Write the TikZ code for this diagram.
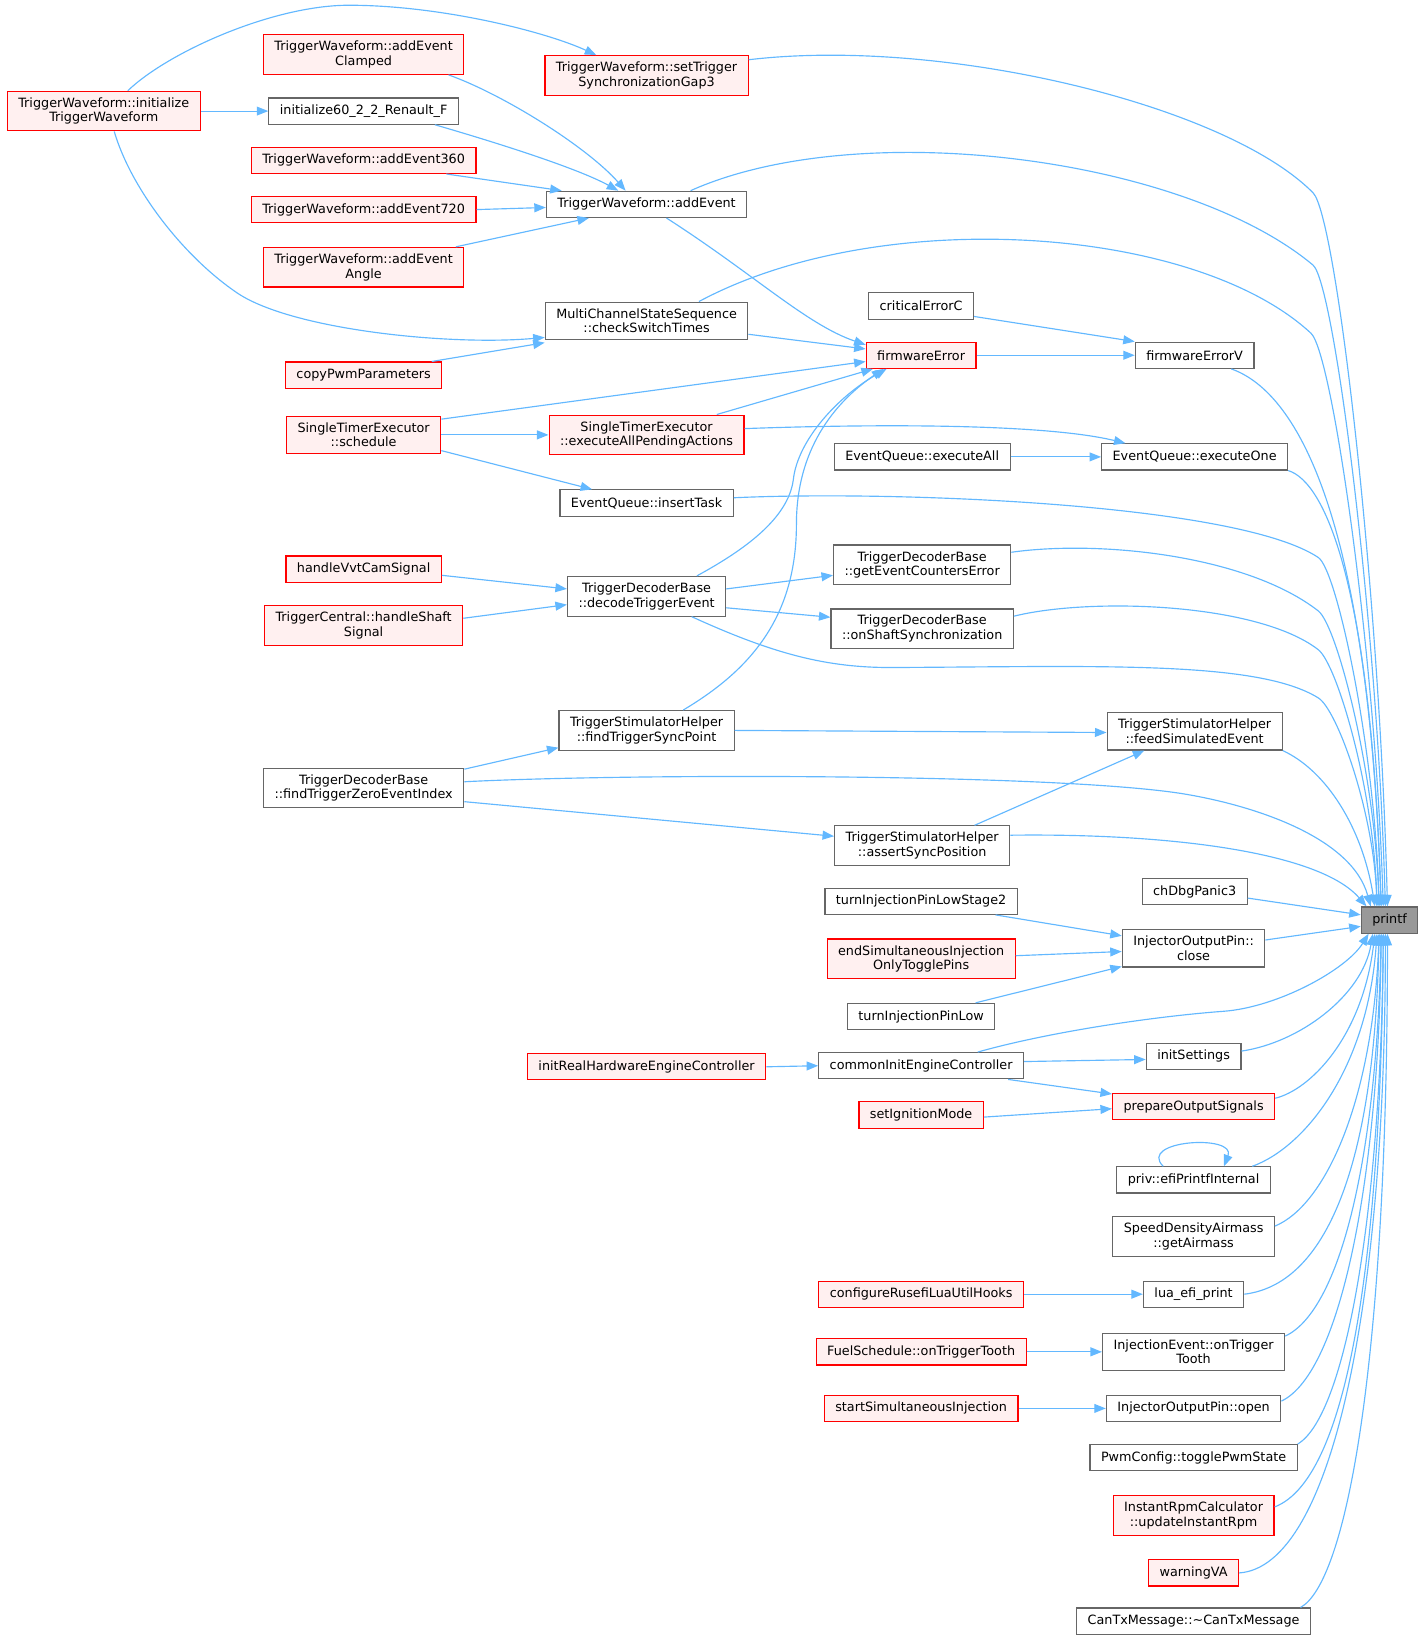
\documentclass[tikz,border=0pt]{standalone}
\usepackage{fontspec}
\setmainfont{DejaVu Sans}
\usepackage{tikz}
\usetikzlibrary{arrows.meta,calc}
\definecolor{edgeblue}{HTML}{63B8FF}
\definecolor{redfill}{HTML}{FFF0F0}
\definecolor{grayline}{HTML}{666666}
\definecolor{rootfill}{HTML}{999999}

\begin{document}
\begin{tikzpicture}[x=1pt,y=-1pt,
  fn/.style={draw=grayline, fill=white, line width=1.1pt, align=center,
    inner xsep=10.5pt, inner ysep=6pt, minimum height=25pt,
    font=\fontsize{12.2}{14}\selectfont},
  fnred/.style={fn, draw=red, fill=redfill},
  fnroot/.style={fn, fill=rootfill},
  call/.style={draw=edgeblue, line width=1.1pt, -{Triangle[length=11pt,width=8.5pt]}}]
\useasboundingbox (0,0) rectangle (1359,1565);

% Outer callers
\node[fnred] (initTW) at (99,106) {TriggerWaveform::initialize\\TriggerWaveform};
\node[fnred] (addEvClamped) at (347,52) {TriggerWaveform::addEvent\\Clamped};
\node[fn] (init60) at (347,106) {initialize60\_2\_2\_Renault\_F};
\node[fnred] (addEv360) at (347,153) {TriggerWaveform::addEvent360};
\node[fnred] (addEv720) at (347,200) {TriggerWaveform::addEvent720};
\node[fnred] (addEvAngle) at (347,255) {TriggerWaveform::addEvent\\Angle};
\node[fnred] (copyPwm) at (347,358) {copyPwmParameters};
\node[fnred] (schedule) at (347,415) {SingleTimerExecutor\\::schedule};
\node[fnred] (handleVvt) at (347,543) {handleVvtCamSignal};
\node[fnred] (handleShaft) at (347,597) {TriggerCentral::handleShaft\\Signal};
\node[fn] (findZero) at (347,752) {TriggerDecoderBase\\::findTriggerZeroEventIndex};

% Second column
\node[fnred] (setGap) at (617,72) {TriggerWaveform::setTrigger\\SynchronizationGap3};
\node[fn] (addEv) at (617,195) {TriggerWaveform::addEvent};
\node[fn] (checkSw) at (617,306) {MultiChannelStateSequence\\::checkSwitchTimes};
\node[fnred] (execPending) at (617,415) {SingleTimerExecutor\\::executeAllPendingActions};
\node[fn] (insertTask) at (617,480) {EventQueue::insertTask};
\node[fn] (decode) at (617,569) {TriggerDecoderBase\\::decodeTriggerEvent};
\node[fn] (findSync) at (617,697) {TriggerStimulatorHelper\\::findTriggerSyncPoint};
\node[fnred] (initRealHW) at (617,1018) {initRealHardwareEngineController};

% Third column
\node[fn] (critErrC) at (879,292) {criticalErrorC};
\node[fnred] (fwError) at (879,339) {firmwareError};
\node[fn] (execAll) at (880,436) {EventQueue::executeAll};
\node[fn] (getCounters) at (880,539) {TriggerDecoderBase\\::getEventCountersError};
\node[fn] (onShaft) at (880,600) {TriggerDecoderBase\\::onShaftSynchronization};
\node[fn] (assertSync) at (880,807) {TriggerStimulatorHelper\\::assertSyncPosition};
\node[fn] (pinLowStage2) at (879,860) {turnInjectionPinLowStage2};
\node[fnred] (endSim) at (879,915) {endSimultaneousInjection\\OnlyTogglePins};
\node[fn] (pinLow) at (879,970) {turnInjectionPinLow};
\node[fn] (commonInit) at (879,1017) {commonInitEngineController};
\node[fnred] (setIgn) at (879,1064) {setIgnitionMode};
\node[fnred] (configLua) at (879,1235) {configureRusefiLuaUtilHooks};
\node[fnred] (fuelSched) at (879,1290) {FuelSchedule::onTriggerTooth};
\node[fnred] (startSim) at (879,1344) {startSimultaneousInjection};

% Direct callers of printf
\node[fn] (fwErrorV) at (1140,339) {firmwareErrorV};
\node[fn] (execOne) at (1140,436) {EventQueue::executeOne};
\node[fn] (feedSim) at (1140,698) {TriggerStimulatorHelper\\::feedSimulatedEvent};
\node[fn] (dbgPanic) at (1140,851) {chDbgPanic3};
\node[fn] (pinClose) at (1139,905) {InjectorOutputPin::\\close};
\node[fn] (initSettings) at (1139,1008) {initSettings};
\node[fnred] (prepOut) at (1139,1056) {prepareOutputSignals};
\node[fn] (efiPrintf) at (1139,1126) {priv::efiPrintfInternal};
\node[fn] (airmass) at (1139,1180) {SpeedDensityAirmass\\::getAirmass};
\node[fn] (luaPrint) at (1139,1235) {lua\_efi\_print};
\node[fn] (injEvent) at (1139,1290) {InjectionEvent::onTrigger\\Tooth};
\node[fn] (pinOpen) at (1139,1344) {InjectorOutputPin::open};
\node[fn] (togglePwm) at (1139,1391) {PwmConfig::togglePwmState};
\node[fnred] (instRpm) at (1139,1446) {InstantRpmCalculator\\::updateInstantRpm};
\node[fnred] (warnVA) at (1139,1501) {warningVA};
\node[fn] (canTx) at (1139,1547) {CanTxMessage::\textasciitilde CanTxMessage};

% Root
\node[fnroot] (printf) at (1326,878) {printf};

% Calls around addEvent
\draw[call] (initTW.east) -- (init60.west);
\draw[call] ([xshift=23pt]initTW.north) .. controls (160,50) and (260,5) .. (333,5)
  .. controls (420,5) and (520,30) .. ([xshift=-48pt]setGap.north);
\draw[call] ([xshift=10pt]initTW.south) .. controls (125,180) and (175,245) .. (227,280)
  .. controls (280,315) and (430,330) .. ([yshift=-16pt]checkSw.west);
\draw[call] ([xshift=81pt]addEvClamped.south) .. controls (480,90) and (560,140) .. ([xshift=-20pt]addEv.north);
\draw[call] ([xshift=68pt]init60.south) .. controls (470,135) and (550,160) .. ([xshift=-27pt]addEv.north);
\draw[call] ([xshift=79pt]addEv360.south) -- ([xshift=-81pt]addEv.north);
\draw[call] (addEv720.east) -- ([yshift=-3pt]addEv.west);
\draw[call] ([xshift=88pt]addEvAngle.north) -- ([xshift=-55pt]addEv.south);
\draw[call] ([xshift=65pt]copyPwm.north) -- ([yshift=-21pt]checkSw.west);

% Scheduler and firmwareError
\draw[call] (schedule.east) -- (execPending.west);
\draw[call] ([yshift=15pt]schedule.east) -- ([yshift=-6pt]fwError.west);
\draw[call] ([yshift=-15pt]schedule.east) -- ([xshift=-52pt]insertTask.north);
\draw[call] ([xshift=67pt]execPending.north) -- ([xshift=-46pt]fwError.south);
\draw[call] ([yshift=6pt]execPending.east) .. controls (850,404) and (1000,405) .. ([xshift=-66pt]execOne.north);
\draw[call] ([xshift=19pt]addEv.south) .. controls (720,262) and (770,310) .. ([yshift=10pt]fwError.west);
\draw[call] ([yshift=-13pt]checkSw.east) -- ([yshift=6pt]fwError.west);
\draw[call] ([xshift=48pt]decode.north) .. controls (710,525) and (752,495) .. (757,458)
  .. controls (761,420) and (800,378) .. ([xshift=-33pt]fwError.south);
\draw[call] ([xshift=35pt]findSync.north) .. controls (715,640) and (760,590) .. (760,500)
  .. controls (760,430) and (795,385) .. ([xshift=-36pt]fwError.south);
\draw[call] (fwError.east) -- (fwErrorV.west);
\draw[call] ([yshift=-10pt]critErrC.east) -- (fwErrorV.north west);
\draw[call] (execAll.east) -- (execOne.west);

% Trigger decoding
\draw[call] ([yshift=-6pt]handleVvt.east) -- ([yshift=7pt]decode.west);
\draw[call] ([yshift=7pt]handleShaft.east) -- ([yshift=-8pt]decode.west);
\draw[call] ([yshift=7pt]decode.east) -- ([yshift=-10pt]getCounters.west);
\draw[call] ([yshift=-11pt]decode.east) -- ([yshift=11pt]onShaft.west);
\draw[call] ([yshift=18pt]findZero.east) -- ([yshift=3pt]findSync.south west);
\draw[call] ([yshift=-13pt]findZero.east) -- ([yshift=9pt]assertSync.west);
\draw[call] (findSync.east) -- ([yshift=-1pt]feedSim.west);
\draw[call] ([xshift=50pt]assertSync.north) -- ([xshift=-48pt]feedSim.south);

% Injection and init
\draw[call] ([xshift=71pt]pinLowStage2.south) -- ([yshift=12pt]pinClose.west);
\draw[call] ([yshift=3pt]endSim.east) -- ([yshift=-3pt]pinClose.west);
\draw[call] ([xshift=52pt]pinLow.north) -- ([yshift=1pt]pinClose.south west);
\draw[call] (initRealHW.east) -- (commonInit.west);
\draw[call] ([yshift=4pt]commonInit.east) -- ([yshift=-3pt]initSettings.west);
\draw[call] ([xshift=83pt]commonInit.south) -- ([yshift=-1pt]prepOut.north west);
\draw[call] ([yshift=-2pt]setIgn.east) -- ([yshift=-2pt]prepOut.west);
\draw[call] ([xshift=-29pt]efiPrintf.north) .. controls (1085,1088) and (1180,1082) .. ([xshift=29pt]efiPrintf.north);
\draw[call] (configLua.east) -- (luaPrint.west);
\draw[call] (fuelSched.east) -- (injEvent.west);
\draw[call] (startSim.east) -- (pinOpen.west);

% Into printf from above
\draw[call] ([yshift=15pt]setGap.east) .. controls (900,35) and (1170,100) .. (1253,184)
  .. controls (1275,206) and +(-8,-307) .. ([xshift=-2pt]printf.north);
\draw[call] ([xshift=42pt]addEv.north) .. controls (820,110) and (1130,150) .. (1253,253)
  .. controls (1273,270) and +(-8,-276) .. ([xshift=-4pt]printf.north);
\draw[call] ([xshift=50pt]checkSw.north) .. controls (840,195) and (1140,215) .. (1251,318)
  .. controls (1271,336) and +(-8,-247) .. ([xshift=-6pt]printf.north);
\draw[call] ([xshift=35pt]fwErrorV.south) .. controls (1240,375) and +(-12,-366) .. ([xshift=-8pt]printf.north);
\draw[call] (execOne.south east) .. controls (1265,460) and +(-10,-306) .. ([xshift=-8pt]printf.north);
\draw[call] ([yshift=5pt]insertTask.east) .. controls (850,468) and (1180,480) .. (1258,532)
  .. controls (1276,544) and +(-4,-150) .. ([xshift=-10pt]printf.north);
\draw[call] ([yshift=12pt]getCounters.east) .. controls (1050,515) and (1190,530) .. (1258,583)
  .. controls (1276,597) and +(-4,-127) .. ([xshift=-10pt]printf.north);
\draw[call] ([yshift=12pt]onShaft.east) .. controls (1040,570) and (1200,575) .. (1258,620)
  .. controls (1276,634) and +(-3,-111) .. ([xshift=-12pt]printf.north);
\draw[call] ([xshift=43pt]decode.south) .. controls (740,625) and (790,637) .. (850,637)
  .. controls (1050,636) and (1200,630) .. (1258,666)
  .. controls (1276,677) and +(-3,-90) .. ([xshift=-12pt]printf.north);
\draw[call] (feedSim.south east) .. controls (1265,735) and +(-12,-76) .. ([xshift=-14pt]printf.north);
\draw[call] ([yshift=6pt]findZero.east) .. controls (600,738) and (1000,738) .. (1126,757)
  .. controls (1196,768) and +(-18,-66) .. ([xshift=-18pt]printf.north);
\draw[call] ([yshift=10pt]assertSync.east) .. controls (1120,795) and +(-44,-51) .. ([xshift=-22pt]printf.north);

% Into printf from the side
\draw[call] ([yshift=-6pt]dbgPanic.east) -- ([yshift=5pt]printf.west);
\draw[call] ([yshift=8pt]pinClose.east) -- ([yshift=-6pt]printf.west);

% Into printf from below
\draw[call] ([xshift=54pt]commonInit.north) .. controls (1000,985) and (1100,970) .. (1168,965)
  .. controls (1220,961) and +(-21,34) .. ([xshift=-20pt]printf.south);
\draw[call] ([yshift=5pt]initSettings.east) .. controls (1240,995) and +(-10,59) .. ([xshift=-16pt]printf.south);
\draw[call] ([yshift=8pt]prepOut.east) .. controls (1250,1040) and +(-12,99) .. ([xshift=-14pt]printf.south);
\draw[call] ([xshift=56pt]efiPrintf.north) .. controls (1245,1095) and +(-9,129) .. ([xshift=-12pt]printf.south);
\draw[call] ([yshift=10pt]airmass.east) .. controls (1265,1150) and +(-6,159) .. ([xshift=-10pt]printf.south);
\draw[call] (luaPrint.east) .. controls (1270,1225) and +(-4,209) .. ([xshift=-10pt]printf.south);
\draw[call] ([yshift=15pt]injEvent.east) .. controls (1280,1250) and +(-4,209) .. ([xshift=-8pt]printf.south);
\draw[call] ([yshift=7pt]pinOpen.east) .. controls (1280,1310) and +(-2,229) .. ([xshift=-8pt]printf.south);
\draw[call] (togglePwm.north east) .. controls (1285,1350) and +(-2,259) .. ([xshift=-6pt]printf.south);
\draw[call] ([yshift=8pt]instRpm.east) .. controls (1290,1410) and +(-2,289) .. ([xshift=-6pt]printf.south);
\draw[call] (warnVA.east) .. controls (1270,1495) and +(0,359) .. ([xshift=-4pt]printf.south);
\draw[call] ([xshift=102pt]canTx.north) .. controls (1285,1510) and +(0,409) .. ([xshift=-2pt]printf.south);
\end{tikzpicture}
\end{document}
